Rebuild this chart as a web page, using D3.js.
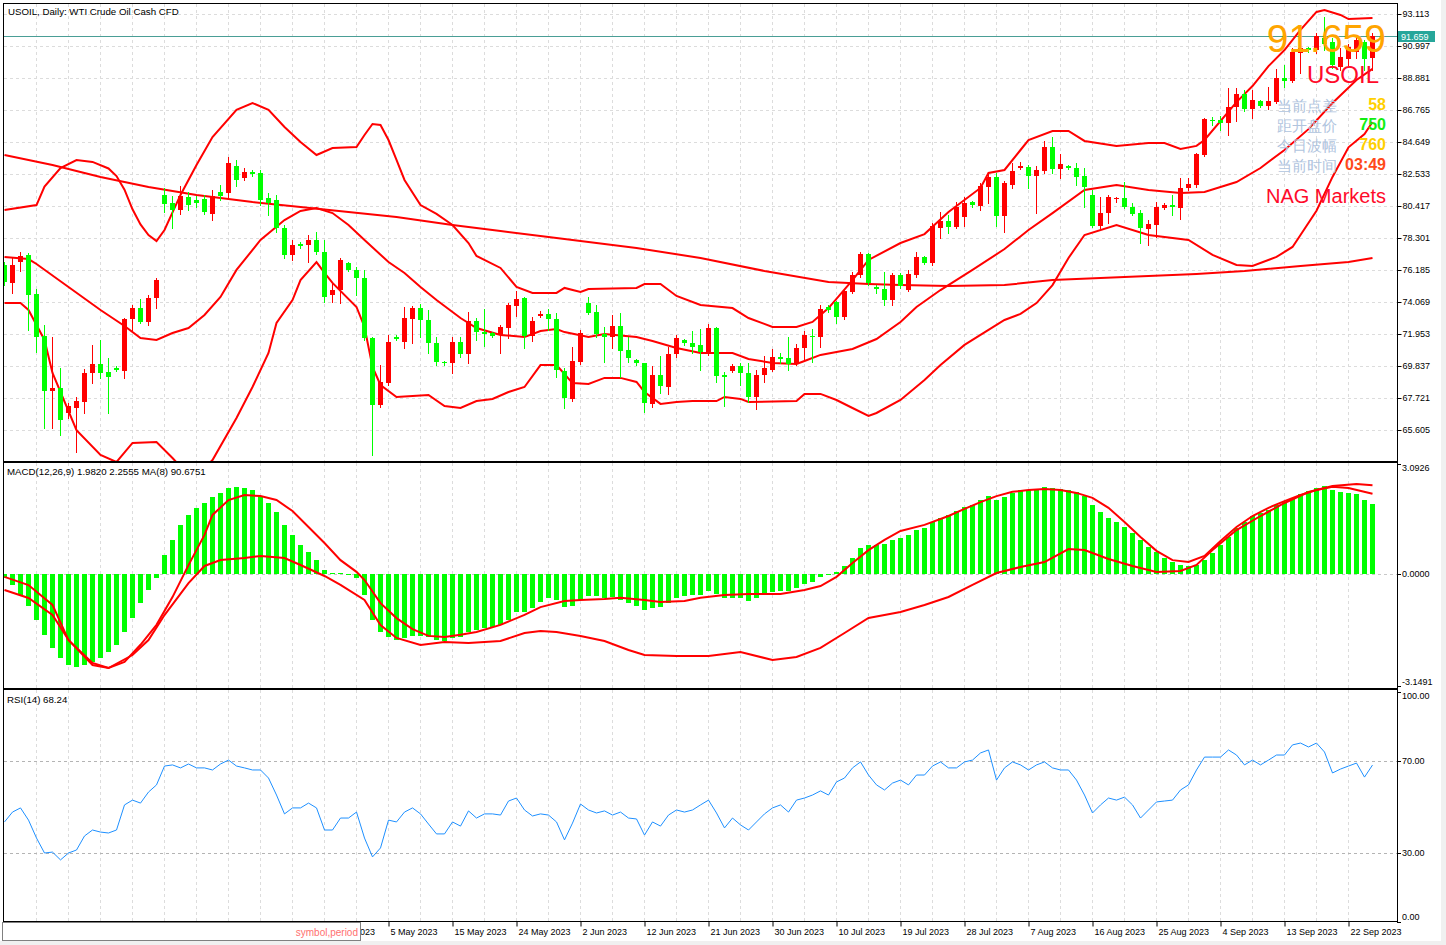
<!DOCTYPE html>
<html>
<head>
<meta charset="utf-8">
<script src="https://cdn.jsdelivr.net/npm/d3@7"></script>
<style>
  body { margin: 0; background: #f0f0f0; }
  svg text { font-family: "Liberation Sans", Arial, sans-serif; }
</style>
</head>
<body>
<svg id="chart"></svg>
<script>
// ---- data (USOIL daily) ----
const opens = [76.52,75.33,76.71,77.18,74.60,71.82,68.18,68.38,66.73,67.06,
  67.46,69.38,69.97,69.44,69.71,69.51,72.95,73.67,72.75,74.33,
  81.15,80.62,80.15,81.01,80.81,80.88,79.89,81.34,81.28,83.06,
  82.27,82.67,82.60,80.95,80.81,78.96,77.18,77.91,77.84,78.17,
  77.38,74.53,74.86,76.65,76.19,75.66,71.69,67.26,68.71,71.75,
  71.42,72.95,73.67,72.88,71.36,70.10,70.04,71.42,70.63,72.81,
  72.08,72.02,71.89,72.35,73.80,74.33,71.82,73.14,73.28,72.95,
  69.51,67.66,70.10,74.00,73.41,71.95,71.75,72.48,70.89,70.24,
  70.04,67.33,69.24,68.45,70.63,71.56,71.36,71.23,70.70,72.35,
  69.24,69.51,69.84,69.38,67.79,69.24,69.58,70.43,70.37,69.97,
  71.03,71.82,71.75,73.74,74.07,73.08,74.73,75.86,77.24,75.06,
  74.93,74.20,75.86,74.86,75.86,77.05,76.65,78.96,79.43,79.03,
  79.69,80.68,80.42,81.67,82.34,79.76,81.81,82.93,83.00,82.40,
  82.73,84.32,82.87,83.06,82.93,82.40,81.15,79.10,79.95,80.88,
  80.95,80.35,79.95,78.90,79.16,80.28,80.48,80.28,81.61,81.81,
  83.79,86.10,86.10,85.91,86.96,87.82,86.83,87.36,87.03,87.29,
  88.88,88.68,90.54,90.87,90.73,91.53,91.26,89.61,90.14,90.60,
  91.26,90.20];
const highs = [76.71,77.05,77.38,77.31,74.93,72.55,71.75,69.71,67.39,67.79,
  69.64,71.23,71.56,70.37,69.84,73.01,73.87,74.27,74.53,75.66,
  81.61,81.08,81.74,81.34,81.08,81.15,81.48,81.81,83.66,83.46,
  82.93,82.80,82.80,81.28,81.15,79.16,78.17,78.04,78.50,78.70,
  78.17,75.33,76.98,76.71,76.38,76.19,71.75,69.90,71.89,71.89,
  73.74,73.80,73.94,73.54,71.75,70.17,71.75,71.75,73.41,73.01,
  73.61,72.08,72.55,74.00,74.80,74.40,73.08,73.47,73.61,73.34,
  69.71,71.09,72.22,74.40,73.87,72.42,73.21,73.34,71.75,70.30,
  70.04,69.84,70.50,71.09,71.89,71.62,72.15,72.28,72.61,72.42,
  69.44,69.97,70.04,70.04,69.58,70.50,70.96,70.70,71.75,71.29,
  72.15,72.28,73.87,73.87,74.14,74.93,76.05,77.38,77.31,75.19,
  76.05,75.99,75.99,76.19,77.38,77.11,79.29,80.02,79.82,80.68,
  81.01,80.75,81.94,82.60,82.60,82.07,83.26,83.33,83.13,83.06,
  84.72,84.98,83.86,83.13,83.26,82.93,81.48,81.01,81.15,81.01,
  82.00,80.62,80.15,79.49,80.68,80.62,81.15,82.27,82.27,83.92,
  86.24,86.30,86.37,88.22,88.22,88.09,88.09,87.43,88.29,89.48,
  89.74,90.87,91.26,90.93,91.86,92.92,91.53,90.87,91.13,91.53,
  91.39,91.86];
const lows = [75.19,74.67,76.12,72.22,70.76,65.74,65.74,65.28,66.40,64.15,
  66.73,68.71,69.05,66.73,69.51,69.05,72.22,72.68,72.55,73.67,
  80.02,78.96,79.89,80.15,80.35,79.89,79.49,80.81,81.01,81.74,
  82.14,82.40,80.48,79.82,78.70,76.98,76.85,77.64,76.71,77.24,
  74.07,74.07,74.00,76.12,74.53,71.56,63.95,67.13,68.58,71.56,
  71.03,71.36,71.75,70.70,69.90,69.90,69.38,70.43,70.04,71.56,
  71.16,71.75,70.70,71.69,73.14,71.03,71.49,73.08,72.22,69.11,
  67.06,67.52,69.97,73.28,71.75,70.10,71.03,69.11,70.10,69.90,
  66.80,67.13,68.05,67.99,70.43,71.23,70.70,69.58,70.57,68.78,
  67.19,69.44,68.58,67.46,66.99,68.78,69.51,70.04,69.58,69.90,
  70.30,70.10,71.09,73.41,72.68,72.95,74.67,75.72,75.19,74.67,
  73.87,73.87,75.00,74.80,75.72,76.58,76.52,78.30,78.63,78.96,
  79.10,80.35,80.15,80.62,79.10,78.70,81.61,82.87,81.61,79.95,
  82.60,82.60,82.27,82.87,81.81,80.35,79.03,78.96,79.29,80.68,
  80.28,79.82,77.97,77.84,78.37,80.22,79.82,79.56,81.48,81.67,
  83.72,85.77,85.44,85.11,86.04,86.70,86.24,86.96,86.83,87.23,
  88.29,88.62,89.21,90.60,90.54,90.73,89.54,89.41,89.74,90.20,
  89.41,89.41];
const closes = [75.39,76.52,77.11,74.53,71.75,68.18,68.38,66.27,67.19,67.52,
  69.38,69.97,69.38,69.11,69.58,72.95,73.67,72.75,74.33,75.52,
  80.55,80.15,81.08,80.48,80.62,80.02,81.08,81.08,83.26,82.14,
  82.67,82.53,80.81,80.62,78.96,77.18,77.84,77.77,78.17,77.38,
  74.40,74.86,76.85,76.19,75.66,71.69,67.26,68.78,71.42,71.62,
  73.01,73.67,72.88,71.36,70.10,70.04,71.42,70.63,72.81,72.08,
  71.95,71.82,72.42,73.87,74.27,71.82,72.81,73.28,72.95,69.58,
  67.72,70.17,72.02,73.34,71.95,71.75,72.48,70.83,70.37,70.04,
  67.39,69.24,68.51,70.63,71.69,71.36,71.09,70.76,72.35,69.18,
  69.11,69.84,69.38,67.79,69.24,69.71,70.43,70.30,69.97,71.03,
  71.89,71.75,73.61,73.54,73.08,74.80,75.86,77.24,75.33,74.93,
  74.20,75.86,75.13,75.92,77.05,76.65,79.10,79.43,79.03,80.35,
  80.62,80.48,81.74,82.34,79.76,81.94,82.73,83.06,82.40,82.80,
  84.32,82.87,83.20,82.93,82.34,81.67,79.10,79.95,81.01,80.95,
  80.35,79.89,78.96,79.23,80.35,80.48,80.35,81.61,81.87,83.86,
  86.17,86.04,85.91,86.96,87.82,86.83,87.43,87.03,87.36,88.88,
  88.68,90.60,90.87,90.73,91.66,91.13,89.74,90.27,90.93,91.39,
  90.14,91.659];

// Bollinger bands and slow MA, [bar index, price]
const bbUpper = [[0,80.15],[4,80.48],[5,81.7],[7,82.93],[9,83.46],[11,83.33],[13,82.9],[14,82.4],[15,81.5],[16,80.2],[17,79.2],[18,78.5],[19,78.10],[20,78.83],[22,81.15],[24,83.13],[26,84.98],[29,86.77],[31,87.23],[33,86.77],[35,85.64],[37,84.65],[39,83.79],[41,84.25],[44,84.32],[45,85.11],[46,85.84],[47,85.77],[48,84.78],[49,83.46],[50,82.14],[52,80.48],[54,79.89],[56,79.16],[58,77.97],[59,77.11],[62,76.32],[64,75.06],[66,74.67],[69,74.67],[70,75.00],[72,74.73],[73,74.93],[79,75.00],[80,75.26],[82,75.26],[84,74.47],[87,73.87],[91,73.67],[93,73.01],[96,72.42],[99,72.42],[101,72.75],[103,73.67],[106,75.52],[108,76.85],[112,77.97],[115,78.56],[118,80.02],[122,81.61],[123,82.60],[125,82.80],[127,84.12],[128,84.78],[131,85.38],[133,85.38],[135,84.72],[139,84.39],[143,84.58],[145,84.58],[147,84.19],[149,84.39],[150,84.78],[154,87.29],[156,88.35],[158,89.67],[160,90.73],[162,92.06],[164,93.25],[165,93.38],[167,93.05],[168,92.78],[171,92.85]];
const bbMid = [[0,77.04],[3,76.91],[4,76.58],[8,75.06],[12,73.54],[15,72.48],[17,71.69],[19,71.56],[21,72.02],[23,72.35],[25,73.21],[27,74.40],[29,76.19],[32,78.17],[35,79.49],[37,80.09],[39,80.28],[41,79.95],[43,79.16],[45,78.17],[48,76.71],[50,75.99],[52,75.06],[54,74.20],[57,73.01],[59,72.35],[62,71.89],[65,71.75],[67,72.15],[69,72.28],[70,72.08],[73,71.75],[75,71.95],[79,71.75],[81,71.49],[84,71.03],[87,70.70],[91,70.70],[93,70.30],[96,70.04],[99,69.97],[100,70.17],[102,70.57],[106,70.96],[109,71.62],[112,72.75],[114,73.74],[117,74.86],[121,76.19],[125,77.57],[128,78.83],[131,79.95],[135,81.48],[139,81.81],[143,81.48],[147,81.28],[150,81.34],[154,82.00],[157,82.93],[160,84.12],[163,85.50],[166,87.23],[169,88.75],[171,89.48]];
const bbLower = [[0,74.00],[2,74.00],[3,73.54],[5,71.56],[6,69.38],[9,65.60],[12,63.95],[14,63.49],[16,64.75],[19,64.81],[21,63.75],[23,62.63],[25,63.09],[26,63.62],[29,66.40],[31,68.45],[33,70.70],[34,72.68],[36,74.20],[37,75.52],[39,76.71],[40,75.99],[41,75.33],[44,73.74],[45,72.42],[46,69.77],[47,68.58],[49,67.79],[51,67.85],[53,67.92],[55,67.19],[57,67.06],[59,67.52],[61,67.66],[63,68.12],[65,68.45],[67,69.90],[69,69.90],[71,68.71],[73,68.65],[75,69.05],[77,69.05],[79,68.78],[80,68.12],[82,67.33],[84,67.46],[86,67.52],[89,67.52],[90,67.79],[92,67.66],[93,67.46],[99,67.52],[100,67.99],[102,67.99],[104,67.59],[106,67.06],[108,66.53],[109,66.73],[112,67.59],[115,68.91],[117,69.90],[120,71.23],[123,72.22],[125,72.88],[127,73.28],[129,74.00],[131,75.19],[133,76.98],[135,78.50],[139,79.16],[143,78.50],[148,78.17],[151,77.18],[154,76.52],[156,76.45],[159,77.05],[161,77.71],[162,78.50],[164,80.10],[166,82.34],[168,84.30],[170,85.17],[171,85.97]];
const maSlow = [[0,83.79],[6,83.13],[12,82.34],[18,81.67],[24,81.15],[31,80.68],[37,80.35],[43,80.02],[49,79.69],[56,79.16],[62,78.76],[68,78.37],[71,78.17],[79,77.64],[87,76.98],[95,76.12],[103,75.39],[108,75.26],[112,75.19],[118,75.13],[125,75.19],[131,75.52],[137,75.66],[143,75.79],[149,75.92],[155,76.12],[162,76.45],[168,76.71],[171,76.98]];

// MACD main (histogram), signal line, MA(8) line
const macdHist = [-0.11,-0.31,-0.59,-0.90,-1.29,-1.71,-2.08,-2.36,-2.56,-2.61,
  -2.56,-2.47,-2.36,-2.19,-2.00,-1.63,-1.24,-0.82,-0.45,-0.11,
  0.53,0.96,1.38,1.66,1.86,2.00,2.16,2.28,2.42,2.45,
  2.42,2.36,2.19,2.00,1.74,1.38,1.10,0.82,0.62,0.39,
  0.11,0.02,0.03,-0.03,-0.11,-0.59,-1.29,-1.63,-1.77,-1.86,
  -1.80,-1.74,-1.74,-1.77,-1.86,-1.88,-1.80,-1.77,-1.63,-1.57,
  -1.52,-1.49,-1.43,-1.29,-1.07,-1.07,-0.96,-0.79,-0.67,-0.73,
  -0.93,-0.90,-0.73,-0.62,-0.62,-0.67,-0.65,-0.73,-0.82,-0.90,
  -1.01,-0.96,-0.93,-0.82,-0.67,-0.62,-0.59,-0.59,-0.48,-0.56,
  -0.67,-0.67,-0.67,-0.76,-0.67,-0.59,-0.51,-0.48,-0.48,-0.39,
  -0.28,-0.22,-0.08,-0.01,0.06,0.22,0.45,0.73,0.82,0.82,
  0.84,0.96,1.01,1.10,1.24,1.29,1.46,1.57,1.66,1.77,
  1.88,1.94,2.08,2.19,2.08,2.16,2.28,2.36,2.36,2.39,
  2.45,2.42,2.39,2.36,2.31,2.19,1.94,1.74,1.57,1.46,
  1.32,1.15,0.96,0.76,0.62,0.45,0.34,0.25,0.22,0.25,
  0.39,0.59,0.82,1.04,1.29,1.46,1.63,1.71,1.80,1.94,
  2.02,2.14,2.25,2.33,2.42,2.47,2.36,2.31,2.28,2.25,
  2.08,1.982];
const macdSignal = [[0,-0.08],[3,-0.31],[6,-0.87],[8,-1.86],[11,-2.50],[13,-2.64],[15,-2.47],[17,-1.99],[19,-1.43],[21,-0.65],[23,0.25],[25,1.10],[26,1.66],[28,2.08],[30,2.22],[32,2.19],[34,2.08],[36,1.77],[38,1.32],[40,0.87],[42,0.39],[44,0.06],[45,-0.17],[47,-0.82],[49,-1.24],[51,-1.55],[53,-1.74],[55,-1.77],[57,-1.71],[59,-1.63],[62,-1.43],[65,-1.15],[67,-0.93],[70,-0.76],[72,-0.73],[75,-0.70],[77,-0.67],[80,-0.73],[82,-0.79],[85,-0.76],[87,-0.67],[90,-0.59],[93,-0.56],[97,-0.56],[100,-0.45],[102,-0.34],[104,-0.08],[106,0.31],[108,0.67],[110,0.96],[112,1.21],[115,1.38],[118,1.63],[120,1.83],[122,2.02],[124,2.19],[126,2.31],[128,2.36],[130,2.39],[132,2.36],[134,2.28],[136,2.14],[138,1.86],[140,1.46],[142,1.04],[144,0.65],[146,0.39],[148,0.34],[150,0.51],[152,0.93],[154,1.32],[156,1.63],[158,1.86],[160,2.05],[162,2.22],[164,2.36],[166,2.45],[168,2.42],[171,2.2555]];
const ma8 = [[0,78.19],[3,77.24],[6,75.21],[8,72.24],[11,69.26],[13,68.90],[16,70.45],[18,72.24],[20,75.21],[23,79.02],[25,81.05],[27,81.76],[30,82.00],[32,82.24],[35,82.00],[37,81.17],[40,79.86],[42,78.79],[45,77.00],[47,74.02],[49,72.48],[52,71.64],[55,72.00],[58,71.88],[62,72.12],[65,73.07],[67,73.31],[69,73.19],[72,72.71],[75,72.12],[78,71.05],[80,70.45],[84,70.33],[88,70.33],[92,70.81],[96,69.86],[99,70.21],[102,71.29],[105,73.07],[108,74.86],[112,75.57],[115,76.40],[118,77.36],[121,78.79],[124,80.21],[127,80.93],[130,81.52],[133,83.07],[135,82.95],[138,81.88],[141,81.05],[144,80.33],[147,80.45],[149,81.17],[151,82.95],[154,85.33],[157,87.00],[160,88.55],[163,89.86],[166,90.57],[169,90.81],[171,90.6751]];

// RSI(14)
const rsi = [43.5,47.8,49.6,44.3,36.5,30.0,30.4,27.0,30.0,31.3,
  37.4,40.0,39.1,38.7,40.0,50.9,53.0,51.7,56.5,59.6,
  67.8,68.3,67.0,68.7,67.0,67.0,66.1,68.7,70.4,67.8,
  67.0,66.1,66.1,62.6,55.2,47.0,49.6,49.6,51.7,49.6,
  40.0,40.0,45.2,45.2,47.8,36.5,28.3,32.2,44.3,43.5,
  47.8,49.6,47.0,42.6,38.3,38.3,43.5,41.7,48.3,45.2,
  47.0,47.0,46.5,52.6,53.9,48.7,46.1,47.0,46.5,43.5,
  35.7,43.0,51.3,48.7,47.4,48.3,46.5,47.8,45.2,44.8,
  37.8,43.5,41.7,46.5,48.7,47.8,48.7,50.9,53.0,47.4,
  40.9,45.2,42.2,40.0,43.5,47.0,49.6,50.9,47.8,53.0,
  53.9,55.2,57.0,55.2,60.9,62.6,67.0,69.6,63.9,59.6,
  57.4,60.4,61.7,59.6,63.9,63.9,67.8,69.6,67.0,67.0,
  69.6,70.4,73.5,74.8,61.7,67.0,69.6,68.3,66.1,68.3,
  69.6,67.0,66.1,66.1,61.7,55.2,47.4,50.9,53.9,53.0,
  54.3,50.9,45.2,48.7,52.2,52.6,53.0,57.4,59.6,66.1,
  71.7,71.7,71.7,74.8,72.6,68.3,70.4,68.3,70.4,72.6,
  72.6,77.0,77.8,76.1,77.8,73.9,64.8,66.5,67.8,69.1,
  63.0,68.24];

// axis ticks and labels
const priceTicks = [93.113,90.997,88.881,86.765,84.649,82.533,80.417,78.301,76.185,74.069,71.953,69.837,67.721,65.605];
const macdTicks = [3.0926, 0, -3.1491];
const macdTickText = ["3.0926", "0.0000", "-3.1491"];
const rsiTicks = [100, 70, 30, 0];
const rsiLevels = [70, 30];
const dateIdx = [40,48,56,64,72,80,88,96,104,112,120,128,136,144,152,160,168];
const dateLabels = ["26 Apr 2023","5 May 2023","15 May 2023","24 May 2023","2 Jun 2023","12 Jun 2023","21 Jun 2023","30 Jun 2023","10 Jul 2023","19 Jul 2023","28 Jul 2023","7 Aug 2023","16 Aug 2023","25 Aug 2023","4 Sep 2023","13 Sep 2023","22 Sep 2023"];
const lastPrice = 91.659;
const infoLabels = ["当前点差", "距开盘价", "今日波幅", "当前时间"];
const infoValues = ["58", "750", "760", "03:49"];
const infoColors = ["#ffd000", "#11ee11", "#ffd000", "#ff4a1a"];

// ---- layout ----
const width = 1446, height = 945;
const left = 4, right = 1397;
const panels = [
  { top: 4, bottom: 461 },
  { top: 463, bottom: 688 },
  { top: 690, bottom: 921 }
];

const svg = d3.select("#chart").attr("width", width).attr("height", height);

svg.append("rect").attr("x", 0).attr("y", 0).attr("width", 1441).attr("height", 941).attr("fill", "#fff");

const x = d3.scaleLinear().domain([0, 171]).range([4, 1372]);
const yMain = d3.scaleLinear().domain([65.605, 93.113]).range([430, 14]);
const yMacd = d3.scaleLinear().domain([-3.1491, 3.0926]).range([686, 464]);
const yMa8 = d3.scaleLinear().domain([70, 90]).range([658.8, 490.8]);
const yRsi = d3.scaleLinear().domain([0, 100]).range([922, 692]);

const defs = svg.append("defs");
panels.forEach((p, i) => {
  defs.append("clipPath").attr("id", "clip" + i)
    .append("rect").attr("x", left).attr("y", p.top).attr("width", right - left).attr("height", p.bottom - p.top);
});
// labels under the symbol,period box are hidden
defs.append("clipPath").attr("id", "clipDates")
  .append("rect").attr("x", 361).attr("y", 900).attr("width", 1085).attr("height", 45);

// grid
const gridColor = "#dcdcdc";
const gridIdx = d3.range(4, 172, 4);
panels.forEach(p => {
  svg.append("g").selectAll("line").data(gridIdx).join("line")
    .attr("x1", d => x(d) + 0.5).attr("x2", d => x(d) + 0.5)
    .attr("y1", p.top).attr("y2", p.bottom)
    .attr("stroke", gridColor).attr("stroke-dasharray", "3,3");
});
svg.append("g").selectAll("line").data(priceTicks).join("line")
  .attr("x1", left).attr("x2", right)
  .attr("y1", d => Math.round(yMain(d)) + 0.5).attr("y2", d => Math.round(yMain(d)) + 0.5)
  .attr("stroke", gridColor).attr("stroke-dasharray", "3,3");
svg.append("line")
  .attr("x1", left).attr("x2", right)
  .attr("y1", Math.round(yMacd(0)) + 0.5).attr("y2", Math.round(yMacd(0)) + 0.5)
  .attr("stroke", "#c8c8c8").attr("stroke-dasharray", "3,3");
svg.append("g").selectAll("line").data(rsiLevels).join("line")
  .attr("x1", left).attr("x2", right)
  .attr("y1", d => Math.round(yRsi(d)) + 0.5).attr("y2", d => Math.round(yRsi(d)) + 0.5)
  .attr("stroke", "#b4b4b4").attr("stroke-dasharray", "3,3");

// ---- main panel ----
const gMain = svg.append("g").attr("clip-path", "url(#clip0)");

// price line
gMain.append("line")
  .attr("x1", left).attr("x2", right)
  .attr("y1", Math.round(yMain(lastPrice)) + 0.5).attr("y2", Math.round(yMain(lastPrice)) + 0.5)
  .attr("stroke", "#4a9e96");

const bandLine = d3.line().x(d => x(d[0]) + 0.5).y(d => yMain(d[1]));
[maSlow, bbUpper, bbMid, bbLower].forEach(s => {
  gMain.append("path").datum(s).attr("d", bandLine)
    .attr("fill", "none").attr("stroke", "#ff0000").attr("stroke-width", 2);
});

const bars = d3.range(opens.length);
const up = i => closes[i] >= opens[i];
gMain.append("g").selectAll("line").data(bars).join("line")
  .attr("x1", i => x(i) + 0.5).attr("x2", i => x(i) + 0.5)
  .attr("y1", i => Math.round(yMain(highs[i]))).attr("y2", i => Math.round(yMain(lows[i])) + 1)
  .attr("stroke", i => up(i) ? "#ff0000" : "#00ff00");
gMain.append("g").selectAll("rect").data(bars).join("rect")
  .attr("x", i => x(i) - 2)
  .attr("y", i => Math.round(yMain(Math.max(opens[i], closes[i]))))
  .attr("width", 5)
  .attr("height", i => Math.max(1, Math.round(yMain(Math.min(opens[i], closes[i]))) - Math.round(yMain(Math.max(opens[i], closes[i])))))
  .attr("fill", i => up(i) ? "#ff0000" : "#00ff00");

// ---- MACD panel ----
const gMacd = svg.append("g").attr("clip-path", "url(#clip1)");
gMacd.append("g").selectAll("rect").data(bars).join("rect")
  .attr("x", i => x(i) - 2)
  .attr("y", i => Math.round(Math.min(yMacd(macdHist[i]), yMacd(0))))
  .attr("width", 5)
  .attr("height", i => Math.max(1, Math.round(Math.abs(yMacd(macdHist[i]) - yMacd(0)))))
  .attr("fill", "#00ff00");
gMacd.append("path").datum(macdSignal)
  .attr("d", d3.line().x(d => x(d[0]) + 0.5).y(d => yMacd(d[1])))
  .attr("fill", "none").attr("stroke", "#ff0000").attr("stroke-width", 2);
gMacd.append("path").datum(ma8)
  .attr("d", d3.line().x(d => x(d[0]) + 0.5).y(d => yMa8(d[1])))
  .attr("fill", "none").attr("stroke", "#ff0000").attr("stroke-width", 2);

// ---- RSI panel ----
const gRsi = svg.append("g").attr("clip-path", "url(#clip2)");
gRsi.append("path").datum(rsi)
  .attr("d", d3.line().x((d, i) => x(i) + 0.5).y(d => yRsi(d)))
  .attr("fill", "none").attr("stroke", "#1e90ff").attr("stroke-width", 1);

// panel frames
panels.forEach(p => {
  svg.append("rect").attr("x", left - 0.5).attr("y", p.top - 0.5)
    .attr("width", right - left + 1).attr("height", p.bottom - p.top + 1)
    .attr("fill", "none").attr("stroke", "#000");
});

// ---- axes ----
const axisFont = 9;
const yAxisMain = svg.append("g").attr("transform", `translate(${right + 0.5},0)`)
  .call(d3.axisRight(yMain).tickValues(priceTicks).tickSize(4).tickPadding(1).tickFormat(d3.format(".3f")));
yAxisMain.select(".domain").remove();
yAxisMain.attr("font-size", axisFont).attr("font-family", "Liberation Sans, Arial, sans-serif");

// current price tag
svg.append("rect").attr("x", right + 1).attr("y", Math.round(yMain(lastPrice)) - 5)
  .attr("width", 37).attr("height", 11).attr("fill", "#26a69a");
svg.append("text").attr("x", right + 4).attr("y", Math.round(yMain(lastPrice)) + 4)
  .attr("font-size", axisFont).attr("fill", "#fff").text(d3.format(".3f")(lastPrice));

// MACD scale labels
const macdOff = [4, 0, -4];
svg.append("g").selectAll("line").data(macdTicks).join("line")
  .attr("x1", right).attr("x2", right + 4)
  .attr("y1", d => Math.round(yMacd(d)) + 0.5).attr("y2", d => Math.round(yMacd(d)) + 0.5)
  .attr("stroke", "#000");
svg.append("g").selectAll("text").data(macdTicks).join("text")
  .attr("x", right + 5).attr("y", (d, i) => yMacd(d) + macdOff[i] + 3)
  .attr("font-size", axisFont).text((d, i) => macdTickText[i]);

// RSI scale labels
const rsiOff = [4, 0, 0, -5];
svg.append("g").selectAll("line").data(rsiTicks).join("line")
  .attr("x1", right).attr("x2", right + 4)
  .attr("y1", d => Math.round(yRsi(d)) + 0.5).attr("y2", d => Math.round(yRsi(d)) + 0.5)
  .attr("stroke", "#000");
svg.append("g").selectAll("text").data(rsiTicks).join("text")
  .attr("x", right + 5).attr("y", (d, i) => yRsi(d) + rsiOff[i] + 3)
  .attr("font-size", axisFont).text(d => d3.format(".2f")(d));

// date axis (outer group carries the clip, inner group the offset)
const xAxis = svg.append("g").attr("clip-path", "url(#clipDates)")
  .append("g").attr("transform", `translate(0,${panels[2].bottom + 0.5})`)
  .call(d3.axisBottom(x).tickValues(dateIdx).tickSize(5).tickPadding(2)
    .tickFormat((d, i) => dateLabels[i]));
xAxis.select(".domain").remove();
xAxis.attr("font-size", axisFont).attr("font-family", "Liberation Sans, Arial, sans-serif");
xAxis.selectAll(".tick line").attr("transform", "translate(0.5,0)");
xAxis.selectAll(".tick text").attr("text-anchor", "start").attr("x", 2);

// symbol,period box
svg.append("rect").attr("x", 2.5).attr("y", 922.5).attr("width", 358).attr("height", 18)
  .attr("fill", "#fff").attr("stroke", "#808080");
svg.append("text").attr("x", 358).attr("y", 936).attr("text-anchor", "end")
  .attr("font-size", 10).attr("fill", "#ff7070").text("symbol,period");

// panel captions
svg.append("text").attr("x", 8).attr("y", 15).attr("font-size", 9.7).text("USOIL, Daily:  WTI Crude Oil Cash CFD");
svg.append("text").attr("x", 7).attr("y", 475).attr("font-size", 9.7).text("MACD(12,26,9) 1.9820 2.2555 MA(8) 90.6751");
svg.append("text").attr("x", 7).attr("y", 703).attr("font-size", 9.7).text("RSI(14) 68.24");

// ---- overlay info ----
svg.append("text").attr("x", 1386).attr("y", 52).attr("text-anchor", "end")
  .attr("font-size", 39).attr("fill", "#ffa500").text(d3.format(".3f")(lastPrice));
svg.append("text").attr("x", 1379).attr("y", 83).attr("text-anchor", "end")
  .attr("font-size", 24).attr("fill", "#ff0a2a").text("USOIL");
svg.append("g").selectAll("text").data(infoLabels).join("text")
  .attr("x", 1277).attr("y", (d, i) => 111 + 20 * i)
  .attr("font-size", 14.5).attr("font-family", "Noto Sans CJK SC").attr("fill", "#b0c4de").text(d => d);
svg.append("g").selectAll("text").data(infoValues).join("text")
  .attr("x", 1386).attr("y", (d, i) => 110 + 20 * i).attr("text-anchor", "end")
  .attr("font-size", 16).attr("font-weight", "bold").attr("fill", (d, i) => infoColors[i]).text(d => d);
svg.append("text").attr("x", 1386).attr("y", 203).attr("text-anchor", "end")
  .attr("font-size", 20).attr("fill", "#ff0a2a").text("NAG Markets");
</script>
</body>
</html>
